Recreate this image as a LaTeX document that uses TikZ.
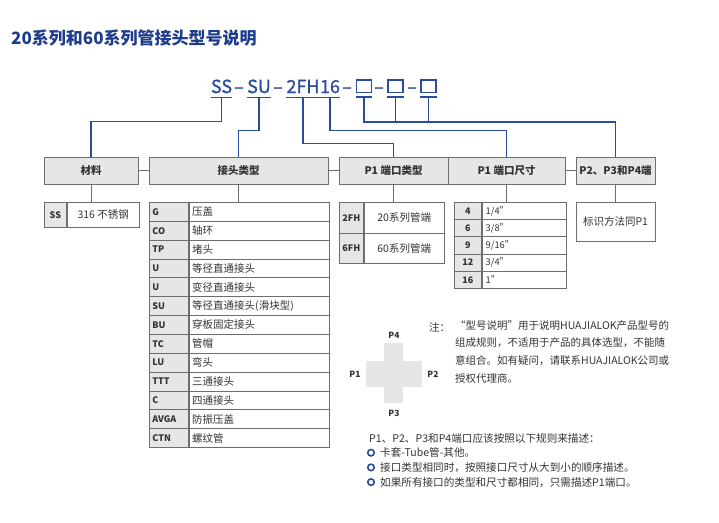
\documentclass[tikz,border=0pt]{standalone}
\usepackage{fontspec}
\setmainfont{Noto Sans CJK SC}
\newfontfamily\codefont[FakeBold=1]{Noto Sans CJK SC}
\usepackage{xcolor}
\definecolor{hjblue}{HTML}{2B4C9B}
\definecolor{titleblue}{HTML}{1E3C8C}
\definecolor{boxline}{HTML}{6E6E6E}
\definecolor{boxfill}{HTML}{E6E6E6}
\definecolor{txt}{HTML}{333333}

\begin{document}
\begin{tikzpicture}[x=1pt, y=-1pt,
  hdr/.style={draw=boxline, fill=boxfill, line width=0.8pt, minimum height=27pt, inner sep=0pt, text=txt, font=\bfseries\fontsize{10.5}{12}\selectfont},
  codecell/.style={draw=boxline, fill=boxfill, line width=0.8pt, inner sep=0pt, text=txt, font=\bfseries\fontsize{9}{10}\selectfont},
  desccell/.style={draw=boxline, fill=white, line width=0.8pt, inner sep=0pt, text=txt, font=\fontsize{10.5}{12}\selectfont},
  codepart/.style={inner sep=0pt, anchor=base, text=hjblue, font=\codefont\fontsize{18}{20}\selectfont},
  blankbox/.style={draw=hjblue, line width=1.3pt, minimum width=15pt, minimum height=12.5pt, inner sep=0pt, anchor=south},
  blueline/.style={draw=hjblue, line width=1.2pt},
  grayline/.style={draw=boxline, line width=0.8pt},
  plain/.style={inner sep=0pt, text=txt, font=\fontsize{10.6}{12}\selectfont},
  portlbl/.style={inner sep=0pt, text=txt, font=\bfseries\fontsize{8.5}{10}\selectfont},
  dot/.style={circle, draw=hjblue, line width=1.6pt, fill=white, minimum size=6.5pt, inner sep=0pt}]
\useasboundingbox (0,0) rectangle (719,522);

\node[anchor=west, inner sep=0pt, text=titleblue, font=\bfseries\fontsize{17}{20}\selectfont] (title) at (11,38) {20系列和60系列管接头型号说明};

\node[codepart] (pSS) at (221.5,93) {SS};
\node[codepart] (d1) at (239,93) {–};
\node[codepart] (pSU) at (259,93) {SU};
\node[codepart] (d2) at (278,93) {–};
\node[codepart] (p2FH) at (303,93) {2FH};
\node[codepart] (p16) at (330,93) {16};
\node[codepart] (d3) at (347,93) {–};
\node[blankbox] (b1) at (364,93) {};
\node[codepart] (d4) at (379,93) {–};
\node[blankbox] (b2) at (395.5,93) {};
\node[codepart] (d5) at (412,93) {–};
\node[blankbox] (b3) at (428.5,93) {};

\foreach \p in {pSS,pSU,p2FH,p16,b1,b2,b3}
  \draw[blueline] ([yshift=-4pt]\p.south west) -- ([yshift=-4pt]\p.south east);

\node[hdr, minimum width=94pt] (mat) at (91,170.5) {材料};
\node[hdr, minimum width=179pt] (jt) at (238.5,170.5) {接头类型};
\node[hdr, minimum width=109pt] (pt) at (393.5,170.5) {P1 端口类型};
\node[hdr, minimum width=117pt] (ps) at (506.5,170.5) {P1 端口尺寸};
\node[hdr, minimum width=79pt] (po) at (615.5,170.5) {P2、P3和P4端};

\draw[grayline] (mat.east) -- (jt.west);
\draw[grayline] (jt.east) -- (pt.west);
\draw[grayline] (ps.east) -- (po.west);

\draw[blueline] ([yshift=-4pt]pSS.south) -- ++(0,24) -| (mat.north);
\draw[blueline] ([yshift=-4pt]pSU.south) -- ++(0,33) -| (jt.north);
\draw[blueline] ([yshift=-4pt]p2FH.south) -- ++(0,46) -| (pt.north);
\draw[blueline] ([yshift=-4pt]p16.south) -- ++(0,33) -| (ps.north);
\draw[blueline] ([yshift=-4pt]b1.south) -- ++(0,25) -| (po.north);
\draw[blueline] ([yshift=-4pt]b2.south) -- ++(0,25);
\draw[blueline] ([yshift=-4pt]b3.south) -- ++(0,25);

\node[codecell, minimum width=22pt, minimum height=25pt, anchor=north west] (ssc) at (44,202) {SS};
\node[desccell, minimum width=72pt, minimum height=25pt, anchor=west] (ssd) at (ssc.east) {316 不锈钢};

\foreach \c/\d [count=\i from 0] in {G/压盖,CO/轴环,TP/堵头,U/等径直通接头,U/变径直通接头,SU/等径直通接头(滑块型),BU/穿板固定接头,TC/管帽,LU/弯头,TTT/三通接头,C/四通接头,AVGA/防振压盖,CTN/螺纹管}{
  \node[codecell, minimum width=39pt, minimum height=18.85pt, text width=33pt, align=left, anchor=north west] (jtc\i) at (149,{202+18.85*\i}) {\c};
  \node[desccell, minimum width=140pt, minimum height=18.85pt, text width=134pt, align=left, anchor=west] (jtd\i) at (jtc\i.east) {\d};
}

\foreach \c/\d [count=\i from 0] in {2FH/20系列管端,6FH/60系列管端}{
  \node[codecell, minimum width=24pt, minimum height=30.5pt, anchor=north west] (ptc\i) at (339,{202+30.5*\i}) {\c};
  \node[desccell, minimum width=80pt, minimum height=30.5pt, anchor=west] (ptd\i) at (ptc\i.east) {\d};
}

\foreach \c/\d [count=\i from 0] in {4/{1/4"},6/{3/8"},9/{9/16"},12/{3/4"},16/{1"}}{
  \node[codecell, minimum width=27pt, minimum height=17.2pt, anchor=north west] (psc\i) at (454,{202+17.2*\i}) {\c};
  \node[desccell, minimum width=84pt, minimum height=17.2pt, text width=77pt, align=left, font=\fontsize{9.3}{10}\selectfont, anchor=west] (psd\i) at (psc\i.east) {\d};
}

\node[desccell, minimum width=79pt, minimum height=39pt, anchor=north] (pod) at (615.5,202) {标识方法同P1};

\draw[grayline] (mat.south) -- (mat.south |- ssc.north);
\draw[grayline] (jt.south) -- (jt.south |- jtc0.north);
\draw[grayline] (pt.south) -- (pt.south |- ptc0.north);
\draw[grayline] (ps.south) -- (ps.south |- psc0.north);
\draw[grayline] (po.south) -- (pod.north);

\fill[boxfill] (366,361) rectangle (422,387);
\fill[boxfill] (384,343) rectangle (403,403);
\node[portlbl] (P4) at (394,335) {P4};
\node[portlbl] (P1) at (355,374) {P1};
\node[portlbl] (P2) at (433,374) {P2};
\node[portlbl] (P3) at (394,413) {P3};

\node[plain, anchor=west, font=\fontsize{10.5}{12}\selectfont] (zhu) at (429,327) {注：};
\node[plain, anchor=north west, align=left, font=\fontsize{10.5}{17.7}\selectfont] (note) at (455,320) {“型号说明”用于说明HUAJIALOK产品型号的\\组成规则，不适用于产品的具体选型，不能随\\意组合。如有疑问，请联系HUAJIALOK公司或\\授权代理商。};

\node[plain, anchor=west] (rules) at (369,438) {P1、P2、P3和P4端口应该按照以下规则来描述：};
\foreach \t [count=\i] in {卡套-Tube管-其他。,接口类型相同时，按照接口尺寸从大到小的顺序描述。,如果所有接口的类型和尺寸都相同，只需描述P1端口。}{
  \node[dot] (bul\i) at (371,{438+14.7*\i}) {};
  \node[plain, anchor=west] (rule\i) at (380,{438+14.7*\i}) {\t};
}
\end{tikzpicture}
\end{document}
